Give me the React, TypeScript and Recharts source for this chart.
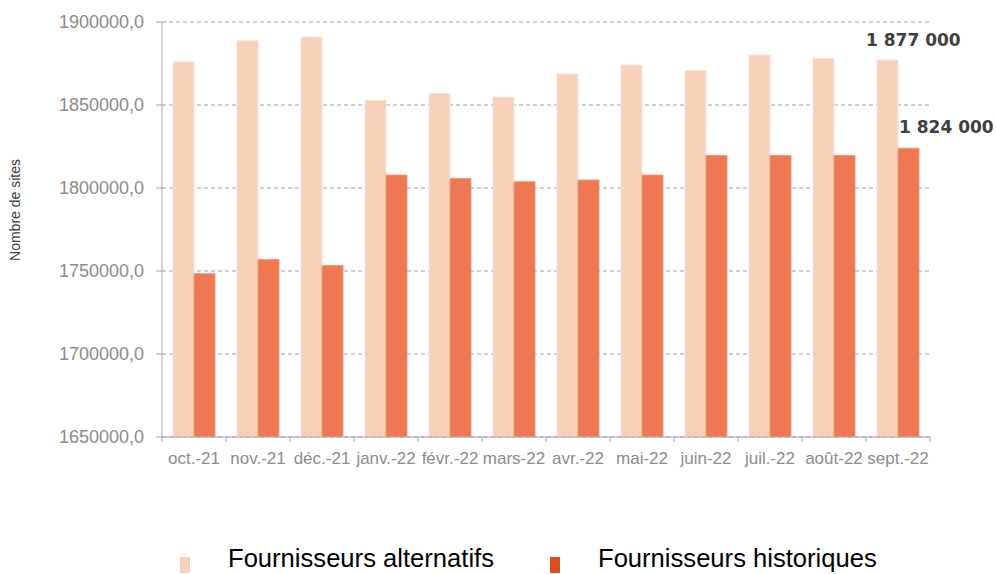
import React from 'react'
import { BarChart, Bar, XAxis, YAxis, CartesianGrid, LabelList } from 'recharts'

const months = ['oct.-21', 'nov.-21', 'déc.-21', 'janv.-22', 'févr.-22', 'mars-22', 'avr.-22', 'mai-22', 'juin-22', 'juil.-22', 'août-22', 'sept.-22']
const alternatifs = [1876000, 1888700, 1891000, 1852800, 1856800, 1854800, 1868700, 1874100, 1870700, 1880100, 1878100, 1877000]
const historiques = [1748400, 1757000, 1753300, 1807800, 1805800, 1803800, 1804800, 1807800, 1819600, 1819600, 1819600, 1824000]
const yTicks = [1650000, 1700000, 1750000, 1800000, 1850000, 1900000]

const W = 996
const H = 574
const margin = { top: 22, right: 66, bottom: 97, left: 0 }
const yAxisWidth = 162
const band = (W - margin.left - margin.right - yAxisWidth) / months.length

const light = '#F8CFB8'
const dark = '#ED7851'
const font = '"Liberation Sans", Arial, sans-serif'

const data = months.map((m, i) => ({ month: m, alt: alternatifs[i], hist: historiques[i] }))

// tick marks sit on category boundaries, not centres
function MonthTick(props: any) {
  const { x, y, payload, index } = props
  return (
    <g>
      <line x1={x - band / 2} x2={x - band / 2} y1={y} y2={y + 5} stroke="#a6a6a6" />
      {index === months.length - 1 && (
        <line x1={x + band / 2} x2={x + band / 2} y1={y} y2={y + 5} stroke="#a6a6a6" />
      )}
      <text x={x} y={y + 15} dy="0.71em" textAnchor="middle" fill="#8c8c8c" fontSize={17} fontFamily={font}>
        {payload.value}
      </text>
    </g>
  )
}

const lastLabel = (dx: number, dy: number) => (props: any) => {
  const { x, y, value, index } = props
  if (index !== months.length - 1) return null
  return (
    <text x={x + dx} y={y + dy} fill="#404040" fontSize={17} fontWeight="bold" fontFamily='"DejaVu Sans", sans-serif'>
      {Math.round(value).toLocaleString('fr-FR').replace(/\s/g, ' ')}
    </text>
  )
}

function YTitle() {
  return (
    <text x={20} y={210} transform="rotate(-90 20 210)" textAnchor="middle" fill="#404040" fontSize={14} fontFamily={font}>
      Nombre de sites
    </text>
  )
}

const legendItems = [
  { label: 'Fournisseurs alternatifs', color: light, sq: 180, tx: 228 },
  { label: 'Fournisseurs historiques', color: '#D9501F', sq: 550, tx: 598 },
]

export default function App() {
  return (
    <div style={{ position: 'absolute', left: 0, top: 0, width: W, height: H, overflow: 'hidden', background: '#fff' }}>
      <BarChart width={W} height={H} data={data} margin={margin} barCategoryGap={11} barGap={0}>
        <CartesianGrid vertical={false} stroke="#a0a0a0" strokeDasharray="4 3" />
        <XAxis
          dataKey="month"
          tick={<MonthTick />}
          tickLine={false}
          tickSize={0}
          tickMargin={0}
          axisLine={{ stroke: '#a6a6a6' }}
          height={40}
          interval={0}
        />
        <YAxis
          width={yAxisWidth}
          domain={[1650000, 1900000]}
          ticks={yTicks}
          allowDataOverflow
          tickFormatter={(v: number) => v.toFixed(1).replace('.', ',')}
          tick={{ fill: '#8c8c8c', fontSize: 18, fontFamily: font }}
          tickSize={6}
          tickMargin={12}
          tickLine={{ stroke: '#a6a6a6' }}
          axisLine={{ stroke: '#a6a6a6' }}
          label={<YTitle />}
        />
        <Bar dataKey="alt" name="Fournisseurs alternatifs" fill={light} stroke="#FBE3D6" strokeWidth={1} isAnimationActive={false}>
          <LabelList dataKey="alt" content={lastLabel(-11, -14)} />
        </Bar>
        <Bar dataKey="hist" name="Fournisseurs historiques" fill={dark} stroke="#F29A7C" strokeWidth={1} isAnimationActive={false}>
          <LabelList dataKey="hist" content={lastLabel(1, -15)} />
        </Bar>
      </BarChart>
      {legendItems.map((it) => (
        <React.Fragment key={it.label}>
          <div style={{ position: 'absolute', left: it.sq, top: 557, width: 10, height: 16, background: it.color }} />
          <div style={{ position: 'absolute', left: it.tx, top: 543, fontSize: 25.6, fontFamily: font, color: '#000', whiteSpace: 'nowrap', lineHeight: '30px' }}>
            {it.label}
          </div>
        </React.Fragment>
      ))}
    </div>
  )
}
